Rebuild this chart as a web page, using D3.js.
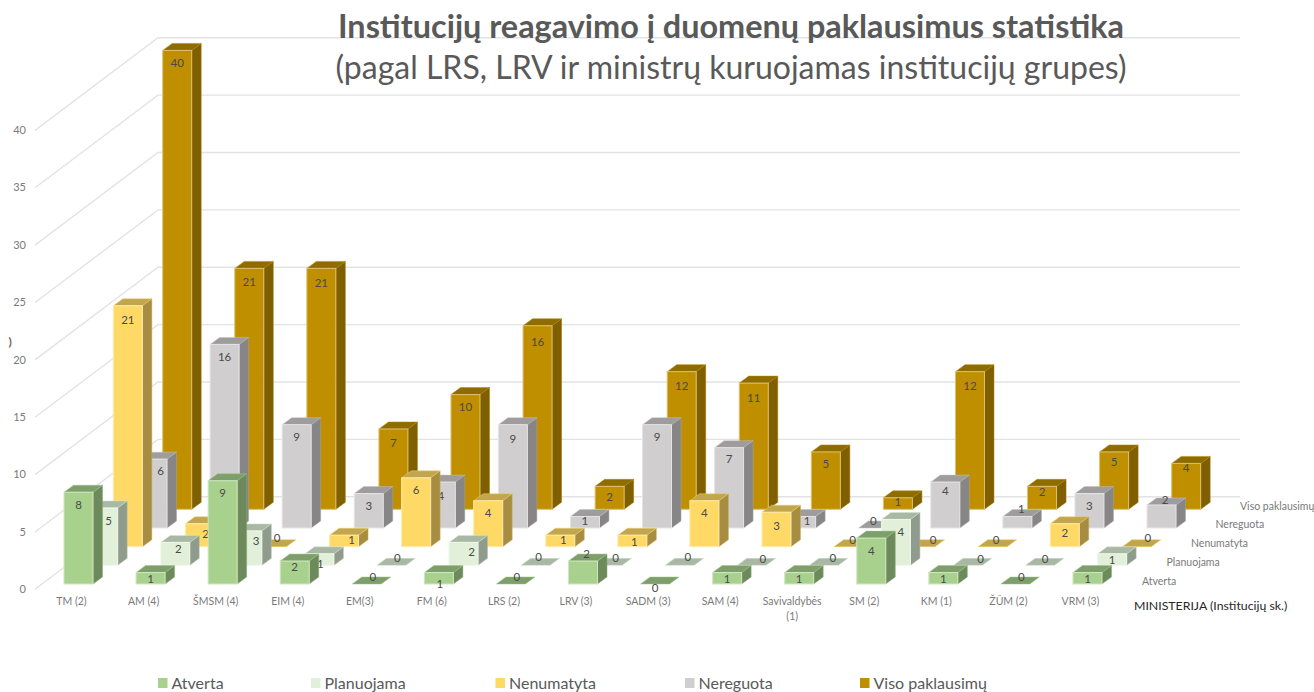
<!DOCTYPE html>
<html lang="lt">
<head>
<meta charset="utf-8">
<title>Institucijų reagavimo į duomenų paklausimus statistika</title>
<script src="https://cdn.jsdelivr.net/npm/d3@7"></script>
<style>
html,body{margin:0;padding:0;background:#fff;}
svg{display:block;}
text{font-family:Lato,"Open Sans",sans-serif;}
</style>
</head>
<body>
<svg id="chart" width="1314" height="692"></svg>
<script>
// ---------- data ----------
const categories = ["TM (2)","AM (4)","ŠMSM (4)","EIM (4)","EM(3)","FM (6)","LRS (2)","LRV (3)","SADM (3)","SAM (4)","Savivaldybės (1)","SM (2)","KM (1)","ŽŪM (2)","VRM (3)"];
const seriesNames = ["Atverta","Planuojama","Nenumatyta","Nereguota","Viso paklausimų"];
const atverta    = [8,1,9,2,0,1,0,2,0,1,1,4,1,0,1];
const planuojama = [5,2,3,1,0,2,0,0,0,0,0,4,0,0,1];
const nenumatyta = [21,2,0,1,6,4,1,1,4,3,0,0,0,2,0];
const nereguota  = [6,16,9,3,4,9,1,9,7,1,0,4,1,3,2];
const viso       = [40,21,21,7,10,16,2,12,11,5,1,12,2,5,4];
const seriesValues = [atverta,planuojama,nenumatyta,nereguota,viso];
const tickValues = [0,5,10,15,20,25,30,35,40];

// ---------- styling ----------
const palette = [
  {face:"#a9d18e",side:"#6d8a5c",top:"#7e9f6b"},
  {face:"#e2f0d9",side:"#8f9c8d",top:"#a9b8a4"},
  {face:"#ffd966",side:"#a68d42",top:"#c2a64f"},
  {face:"#d0cece",side:"#878585",top:"#9e9c9c"},
  {face:"#bf8f00",side:"#7f5f00",top:"#8f6c00"}
];
// hand placement of the value labels that sit away from the default spot (category-series: dx, dy)
const labelNudges = {
  "5-0":[1,11.5],"7-0":[3.5,-7],"8-0":[0,4],
  "0-1":[5.5,12.7],"1-1":[3,6.3],"2-1":[8.7,9.8],"3-1":[1,10.5],"5-1":[8,10],"6-1":[3,-8],"7-1":[8,-7],"8-1":[8,-8],"9-1":[11,-6.6],"10-1":[9,-7],"11-1":[5,12.6],"12-1":[12.5,-6.3],"13-1":[5,-6.6],
  "0-2":[0,14.5],"1-2":[5.7,10.3],"2-2":[5,-8.7],"3-2":[7.5,5],"6-2":[3,4.5],"7-2":[2,7],"9-2":[0,14],"10-2":[4,-7],"11-2":[12.5,-6.7],"12-2":[3.5,-6.7],"13-2":[0,9.3],"14-2":[11,-8.7],
  "0-3":[8,11.5],"4-3":[0,13.6],"5-3":[0,14],"6-3":[0,4],"8-3":[0,11],"9-3":[6,4.5],"10-3":[0,-7],"11-3":[0,9],"12-3":[4,-7.5],"14-3":[3.5,-5],
  "1-4":[0,13.6],"2-4":[0,15],"3-4":[0,14],"5-4":[0,16],"6-4":[0,11],"7-4":[0,14],"8-4":[0,15],"10-4":[0,4],"11-4":[0,14],"13-4":[0,10.3],"14-4":[0,4.3]
};

// ---------- scales ----------
const svg = d3.select("#chart");
const bandW = 29, step = 72.07, x0 = 64;
const pad = 1 - bandW / step;
const x = d3.scaleBand().domain(categories)
  .range([x0 - step * pad / 2, x0 - step * pad / 2 + step * categories.length])
  .paddingInner(pad).paddingOuter(pad / 2);
const h = d3.scaleLinear().domain([0, 40]).range([0, 458.9]);
const depthX = d3.scalePoint().domain(seriesNames).range([0, 98.7]);
const baseY  = d3.scalePoint().domain(seriesNames).range([584, 509.3]);
const capDx = 9.5, capDy = 7;

// ---------- walls ----------
const wall = {leftX:35, backX:158, rightX:1240, drop:92.6, backZero:496.7};
const backY = v => wall.backZero - h(v);
const grid = svg.append("g").attr("fill","none").attr("stroke","#e3e3e3").attr("stroke-width",1.4);
grid.selectAll("path").data(tickValues).join("path")
  .attr("d", v => {
    const p = d3.path();
    p.moveTo(wall.leftX, backY(v) + wall.drop);
    p.lineTo(wall.backX, backY(v));
    p.lineTo(wall.rightX, backY(v));
    return p.toString();
  });

// ---------- value axis ----------
const yAxisScale = d3.scaleLinear().domain([0,40]).range([589, 589 - h(40)]);
const yAxisG = svg.append("g").attr("transform","translate(26,0)")
  .call(d3.axisLeft(yAxisScale).tickValues(tickValues).tickSize(0).tickPadding(0).tickFormat(d3.format("d")));
yAxisG.select(".domain").remove();
yAxisG.selectAll("text").attr("font-size",11).attr("fill","#7a7a7a").attr("style","font-family:Lato,sans-serif");
svg.append("text").attr("x",8.5).attr("y",346).attr("font-size",12).attr("font-weight",700).attr("fill","#666").text(")");

// ---------- bars, back to front ----------
const path = pts => d3.line()(pts) + "Z";
const seriesOrder = d3.range(seriesNames.length).reverse();
seriesOrder.forEach(s => {
  const name = seriesNames[s], col = palette[s];
  const rows = categories.map((c,i) => ({c,i,v:seriesValues[s][i]}));
  const g = svg.append("g").attr("class","series").attr("data-series",name);
  const left = d => x(d.c) + depthX(name);
  const bot = baseY(name);
  const top = d => bot - h(d.v);
  const bars = g.selectAll("g.bar").data(rows).join("g").attr("class","bar");
  // side
  bars.filter(d=>d.v>0).append("path").attr("fill",col.side)
    .attr("stroke", d3.color(col.side).brighter(0.6)).attr("stroke-width",0.5)
    .attr("d", d => path([[left(d)+bandW,top(d)],[left(d)+bandW+capDx,top(d)-capDy],[left(d)+bandW+capDx,bot-capDy],[left(d)+bandW,bot]]));
  // top
  bars.append("path").attr("fill",col.top)
    .attr("stroke", d3.color(col.top).brighter(0.6)).attr("stroke-width",0.5)
    .attr("d", d => path([[left(d),top(d)],[left(d)+capDx,top(d)-capDy],[left(d)+bandW+capDx,top(d)-capDy],[left(d)+bandW,top(d)]]));
  // front
  bars.filter(d=>d.v>0).append("rect").attr("fill",col.face)
    .attr("stroke", d3.interpolateRgb(col.face,"#ffffff")(0.45)).attr("stroke-width",1)
    .attr("x", left).attr("y", top).attr("width", bandW).attr("height", d => h(d.v));
  // value labels are stacked with their own series
  g.selectAll("text.val").data(rows).join("text").attr("class","val")
    .attr("text-anchor","middle").attr("dy","0.35em")
    .attr("font-size",11.5).attr("fill","#4a4a4a")
    .attr("x", d => {
      const n = labelNudges[d.i+"-"+s];
      return left(d) + bandW/2 + (n ? n[0] : d.v===0 ? 6 : 0);
    })
    .attr("y", d => {
      const n = labelNudges[d.i+"-"+s];
      return top(d) + (n ? n[1] : d.v===0 ? -7 : d.v<3 ? 6 : 12.5);
    })
    .text(d => d.v);
});

// ---------- category axis ----------
const catAxisG = svg.append("g").attr("transform","translate(-7,589)")
  .call(d3.axisBottom(x).tickSize(0).tickPadding(9));
catAxisG.select(".domain").remove();
catAxisG.selectAll("text").attr("font-size",10.5).attr("fill","#7a7a7a").attr("style","font-family:Lato,sans-serif")
  .each(function(d){
    if (d.startsWith("Savivaldybės")) {
      const t = d3.select(this), [a,b] = d.split(" "), yy = t.attr("y");
      t.text(null);
      t.append("tspan").attr("x",0).attr("y",yy).attr("dy","0.71em").text(a);
      t.append("tspan").attr("x",0).attr("y",yy).attr("dy","2.05em").text(b);
    }
  });
svg.append("text").attr("x",1134).attr("y",610).attr("font-size",12.3).attr("fill","#262626").text("MINISTERIJA (Institucijų sk.)");

// ---------- depth axis ----------
const depthLabelX = d3.scalePoint().domain(seriesNames).range([1142,1240]);
const depthLabelY = d3.scalePoint().domain(seriesNames).range([581,506]);
svg.append("g").selectAll("text").data(seriesNames).join("text")
  .attr("x", d=>depthLabelX(d)).attr("y", d=>depthLabelY(d)).attr("dy","0.35em")
  .attr("font-size",10.5).attr("fill","#7a7a7a").text(d=>d);

// ---------- title ----------
const titleG = svg.append("g").attr("text-anchor","middle").attr("fill","#595959");
titleG.append("text").attr("x",731).attr("y",38).attr("font-size",32).attr("font-weight",700)
  .attr("textLength",786).attr("lengthAdjust","spacingAndGlyphs").text("Institucijų reagavimo į duomenų paklausimus statistika");
titleG.append("text").attr("x",731).attr("y",78.5).attr("font-size",33)
  .attr("textLength",791).attr("lengthAdjust","spacingAndGlyphs").text("(pagal LRS, LRV ir ministrų kuruojamas institucijų grupes)");

// ---------- legend ----------
const legendX = d3.scaleOrdinal().domain(seriesNames).range([158,311,495.5,685,860]);
const legend = svg.append("g").selectAll("g").data(seriesNames).join("g")
  .attr("transform", d=>`translate(${legendX(d)},683)`);
legend.append("rect").attr("x",0).attr("y",-5).attr("width",9.5).attr("height",10)
  .attr("fill",(d,i)=>palette[i].face);
legend.append("text").attr("x",13.5).attr("dy","0.35em").attr("font-size",16).attr("fill","#595959").text(d=>d);
</script>
</body>
</html>
